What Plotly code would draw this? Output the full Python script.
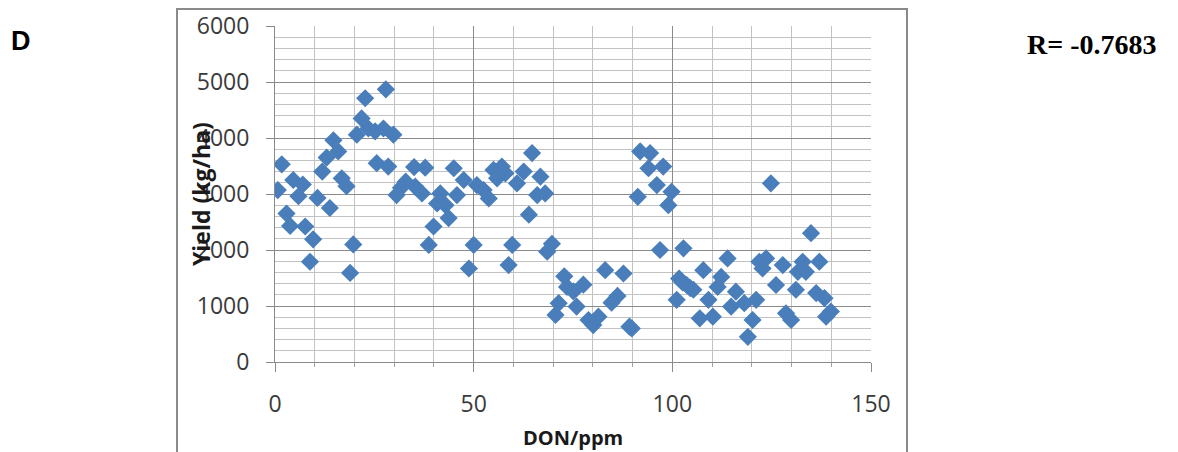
import plotly.graph_objects as go

don_ppm = [0.7, 1.7, 2.9, 3.8, 4.6, 5.9, 7.0, 7.6, 8.8, 9.6,
           10.7, 11.9, 13.0, 13.8, 14.7, 15.9, 16.8, 18.0, 18.9, 19.7,
           20.6, 21.8, 22.7, 23.5, 25.2, 25.6, 27.3, 27.9, 28.5, 29.8,
           30.6, 31.7, 32.9, 35.0, 35.3, 37.0, 37.8, 38.7, 39.9, 40.8,
           41.6, 42.9, 43.7, 45.0, 45.8, 47.5, 48.8, 50.0, 50.8, 52.5,
           53.8, 55.0, 55.9, 57.1, 58.0, 58.8, 59.7, 60.9, 62.6, 63.9,
           64.7, 66.0, 66.8, 68.0, 68.5, 69.7, 70.6, 71.4, 72.8, 73.5,
           75.1, 77.6, 75.9, 78.9, 80.1, 81.4, 83.1, 84.7, 86.2, 87.7,
           89.2, 89.8, 91.3, 91.9, 94.4, 94.0, 97.7, 96.1, 99.8, 99.0,
           96.9, 102.8, 101.1, 101.7, 102.6, 103.6, 104.5, 105.3, 107.8, 106.9,
           109.1, 110.2, 112.3, 111.4, 113.9, 116.0, 114.8, 118.1, 121.1, 120.2,
           119.0, 121.9, 123.6, 122.7, 124.8, 126.1, 127.8, 128.6, 129.9, 131.1,
           131.6, 132.8, 133.6, 134.9, 137.0, 136.2, 138.3, 138.7, 139.9]

yield_kg_ha = [3070, 3530, 2650, 2430, 3250, 2960, 3170, 2420, 1790, 2190,
               2930, 3400, 3650, 2750, 3960, 3760, 3280, 3140, 1590, 2100,
               4060, 4350, 4710, 4170, 4120, 3550, 4170, 4870, 3490, 4060,
               2980, 3110, 3220, 3480, 3130, 3010, 3470, 2090, 2420, 2830,
               3010, 2800, 2570, 3460, 2980, 3250, 1670, 2090, 3160, 3070,
               2920, 3430, 3280, 3490, 3370, 1730, 2090, 3190, 3400, 2630,
               3730, 2980, 3310, 3010, 1970, 2110, 840, 1050, 1530, 1340,
               1260, 1380, 990, 750, 660, 810, 1640, 1060, 1180, 1580,
               630, 600, 2950, 3760, 3730, 3460, 3490, 3160, 3040, 2800,
               2000, 2030, 1110, 1490, 1420, 1375, 1320, 1290, 1640, 780,
               1110, 810, 1520, 1340, 1850, 1255, 990, 1050, 1110, 750,
               450, 1790, 1850, 1670, 3190, 1375, 1730, 870, 750, 1290,
               1610, 1790, 1610, 2300, 1790, 1230, 1140, 810, 900]

x_ticks = [0, 50, 100, 150]
y_ticks = [0, 1000, 2000, 3000, 4000, 5000, 6000]

# the page body adds an 8 px offset; compensate so the picture matches
OFF = 8
W, H = 1178 - OFF, 452 - OFF
PL, PR, PT, PB = 275, 871, 26, 362   # target plot-area pixels in the window

fig = go.Figure()
fig.add_trace(go.Scatter(
    x=don_ppm, y=yield_kg_ha, mode="markers",
    marker=dict(symbol="diamond", size=14, color="#4A7EBB", line=dict(width=0)),
    showlegend=False, hoverinfo="skip"))

tick_font = dict(family="Open Sans, Liberation Sans, sans-serif", size=23, color="#3a3a3a")

fig.update_xaxes(
    range=[0, 150], tickvals=x_ticks, ticktext=[str(v) for v in x_ticks],
    showgrid=True, gridcolor="#8a8a8a", gridwidth=1,
    minor=dict(dtick=10, showgrid=True, gridcolor="#c2c2c2", gridwidth=1,
               ticks="outside", ticklen=4, tickcolor="#a0a0a0"),
    showline=True, linecolor="#8a8a8a", linewidth=1,
    ticks="outside", ticklen=9, tickcolor="#8a8a8a",
    tickfont=tick_font, zeroline=False, ticklabelstandoff=12,
    automargin=False, fixedrange=True)

fig.update_yaxes(
    range=[0, 6000], tickvals=y_ticks, ticktext=[str(v) for v in y_ticks],
    showgrid=True, gridcolor="#8a8a8a", gridwidth=1,
    minor=dict(dtick=200, showgrid=True, gridcolor="#c2c2c2", gridwidth=1),
    showline=True, linecolor="#8a8a8a", linewidth=1,
    ticks="outside", ticklen=8, tickcolor="#8a8a8a",
    tickfont=tick_font, zeroline=False, ticklabelstandoff=12,
    automargin=False, fixedrange=True)

plot_w = PR - PL
plot_h = PB - PT

def px(xp):
    return (xp - PL) / plot_w

def py(yp):
    return (PB - yp) / plot_h

fig.add_shape(type="rect", xref="paper", yref="paper",
              x0=px(177), x1=px(907), y0=-0.5, y1=py(9),
              line=dict(color="#8a8a8a", width=2), fillcolor="rgba(0,0,0,0)",
              layer="below")

fig.add_annotation(text="<b>Yield (kg/ha)</b>", xref="paper", yref="paper",
                   x=px(201), y=0.5, textangle=-90,
                   showarrow=False, xanchor="center", yanchor="middle",
                   font=dict(family="Open Sans, Liberation Sans, sans-serif", size=23, color="#1a1a1a"))

fig.add_annotation(text="<b>DON/ppm</b>", xref="paper", yref="paper",
                   x=0.5, y=py(437),
                   showarrow=False, xanchor="center", yanchor="middle",
                   font=dict(family="Open Sans, Liberation Sans, sans-serif", size=20, color="#1a1a1a"))

fig.add_annotation(text="<b>D</b>", xref="paper", yref="paper",
                   x=px(21), y=py(41),
                   showarrow=False, xanchor="center", yanchor="middle",
                   font=dict(family="Liberation Sans, Arial, sans-serif", size=27, color="#000000"))

fig.add_annotation(text="<b>R= -0.7683</b>", xref="paper", yref="paper",
                   x=px(1092), y=py(44),
                   showarrow=False, xanchor="center", yanchor="middle",
                   font=dict(family="Liberation Serif, Times New Roman, serif", size=28, color="#000000"))

fig.update_layout(
    width=W, height=H,
    margin=dict(l=PL - OFF, r=W + OFF - PR, t=PT - OFF, b=H + OFF - PB),
    paper_bgcolor="white", plot_bgcolor="white",
    showlegend=False)

fig.write_html("out.html")
